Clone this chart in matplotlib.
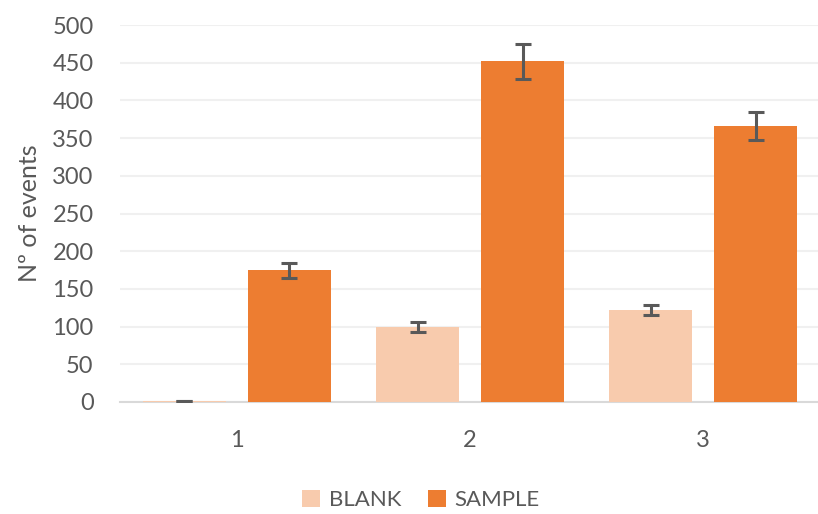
import matplotlib.pyplot as plt
import numpy as np

plt.rcParams['font.family'] = ['Lato', 'DejaVu Sans']

categories = ['1', '2', '3']
blank = [1, 100, 122]
blank_err = [0, 6.5, 6.5]
sample = [175, 452, 366]
sample_err = [10, 23, 18]

txt = '#595959'
fig = plt.figure(figsize=(8.18, 5.14), dpi=100)
ax = fig.add_axes([120/818, 1-402/514, 700/818, 377/514])

x = np.arange(len(categories))
w = 0.357
off = 0.225
ekw = dict(ecolor='#595959', elinewidth=2.2, capsize=6, capthick=2.2)
ax.bar(x-off, blank, w, yerr=blank_err, color='#F8CBAD', label='BLANK', error_kw=ekw, zorder=3)
ax.bar(x+off, sample, w, yerr=sample_err, color='#ED7D31', label='SAMPLE', error_kw=ekw, zorder=3)

ax.set_xlim(-0.5, 2.5)
ax.set_ylim(0, 500)
ax.set_yticks(range(0, 501, 50))
ax.set_xticks(x)
ax.set_xticklabels(categories)
ax.yaxis.grid(True, color='#F0F0F0', linewidth=1.5, zorder=0)
for s in ['top', 'right', 'left']:
    ax.spines[s].set_visible(False)
ax.spines['bottom'].set_color('#D9D9D9')
ax.spines['bottom'].set_linewidth(1.5)
ax.tick_params(axis='y', length=0, labelsize=17, colors=txt, pad=19)
ax.tick_params(axis='x', length=0, labelsize=17, colors=txt, pad=20)
ax.set_ylabel('Nº of events', fontsize=18, color=txt, labelpad=8)

ax.legend(loc='upper center', bbox_to_anchor=(0.43, -0.18), ncol=2, frameon=False,
          fontsize=16, labelcolor=txt, handlelength=0.8, handleheight=0.8,
          columnspacing=1.2, handletextpad=0.4)

fig.savefig('out.png', dpi=100)
